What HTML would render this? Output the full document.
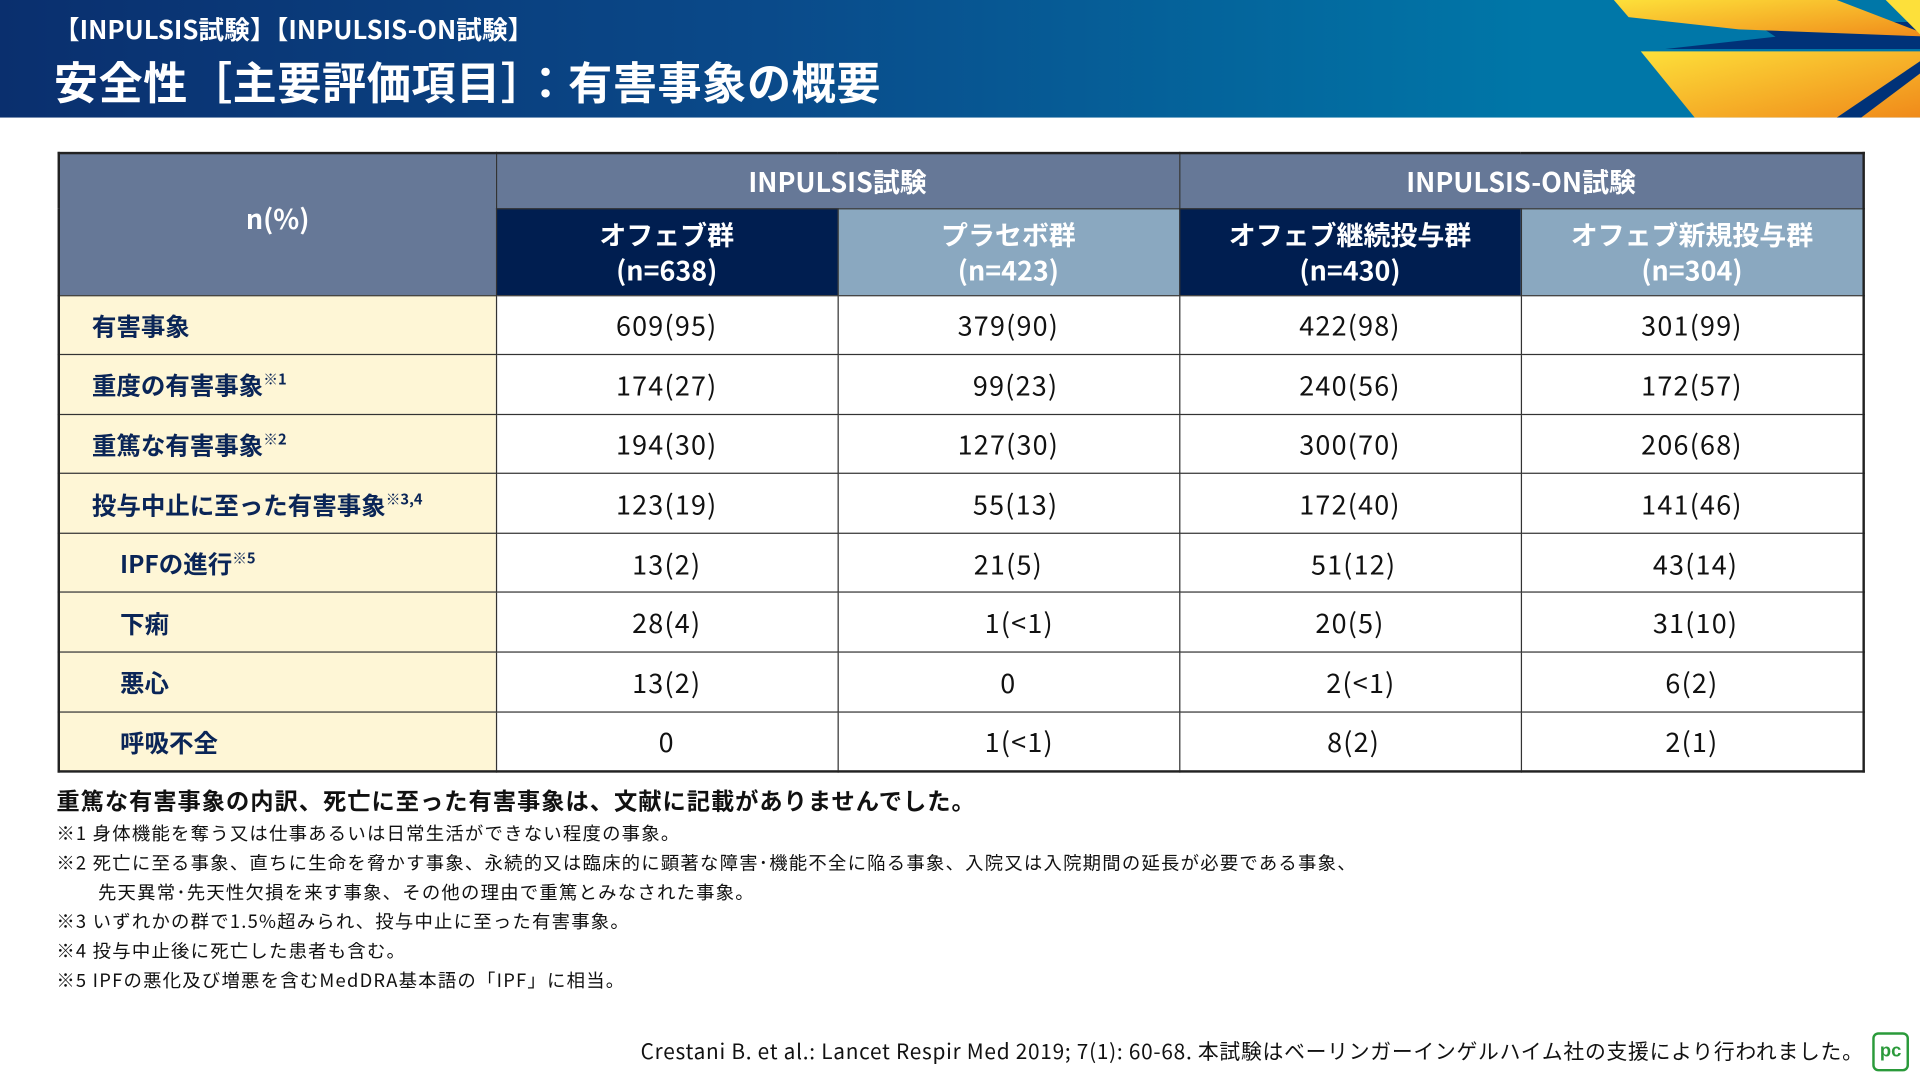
<!DOCTYPE html>
<html><head><meta charset="utf-8"><style>
html,body{margin:0;padding:0;width:1920px;height:1080px;overflow:hidden;background:#fff}
#w{position:absolute;left:0;top:0;width:1568px;height:882px;transform:scale(1.22449);transform-origin:0 0;font-family:"Liberation Sans","Noto Sans CJK JP",sans-serif}
.hd{position:absolute;left:0;top:0;width:1568px;height:96px;background:linear-gradient(90deg,#0a2f6e 0%,#0a4a8a 40%,#0077a8 80%,#0077a8 100%);overflow:hidden}
.t1{position:absolute;left:44px;top:9px;color:#fff;font-size:21px;font-weight:bold;font-family:"Noto Sans CJK JP",sans-serif}
.t2{position:absolute;left:44px;top:40px;color:#fff;font-size:36px;font-weight:bold;font-family:"Noto Sans CJK JP",sans-serif;letter-spacing:0.5px}
table{position:absolute;left:47px;top:124px;border-collapse:collapse;border:2px solid #222;font-family:"Noto Sans CJK JP",sans-serif}
td{border:1px solid #333;padding:0;text-align:center}
.g{background:#667897;color:#fff;font-weight:bold;font-size:22px}
.n{background:#001e50;color:#fff;font-weight:bold;font-size:22px;line-height:29px}
.l{background:#8aa8c0;color:#fff;font-weight:bold;font-size:22px;line-height:29px}
.lb{background:#fef6d6;color:#0a2557;font-weight:bold;font-size:20px;text-align:left;padding-left:26px}
.lb.i{padding-left:49px}
.lb sup{font-size:12px;vertical-align:8px}
.v{font-size:22px;color:#111;background:#fff;letter-spacing:1px}
tr.r td{height:47.6px}
.f{position:absolute;left:46px;font-size:15px;color:#111;font-family:"Noto Sans CJK JP",sans-serif;letter-spacing:1px;white-space:nowrap}
</style></head><body><div id="w">
<div class="hd">
<svg width="1568" height="96" style="position:absolute;left:0;top:0">
<defs><linearGradient id="y" x1="0" y1="0" x2="1" y2="1"><stop offset="0" stop-color="#fde03a"/><stop offset="1" stop-color="#f08a1a"/></linearGradient></defs>
<polygon points="1300,0 1568,0 1568,96 1488,96" fill="#0077a8"/>
<polygon points="1405,0 1500,0 1540,18 1568,18 1568,40 1360,40 1450,30" fill="#003278"/>
<polygon points="1318,0 1530,0 1500,0 1578,30 1420,24 1330,14" fill="url(#y)"/>
<polygon points="1540,0 1568,0 1568,28" fill="#fde03a"/>
<polygon points="1340,42 1568,42 1568,96 1384,96" fill="url(#y)"/>
<polygon points="1500,96 1568,50 1568,60 1520,96" fill="#003278"/>
</svg>
<div class="t1">【INPULSIS試験】【INPULSIS-ON試験】</div>
<div class="t2">安全性［主要評価項目］：有害事象の概要</div>
</div>
<table>
<colgroup><col style="width:357px"><col style="width:279px"><col style="width:279px"><col style="width:279px"><col style="width:280px"></colgroup>
<tr style="height:45px"><td class="g" rowspan="2" style="padding-bottom:10px">n(%)</td><td class="g" colspan="2">INPULSIS試験</td><td class="g" colspan="2">INPULSIS-ON試験</td></tr>
<tr style="height:71px"><td class="n">オフェブ群<br>(n=638)</td><td class="l">プラセボ群<br>(n=423)</td><td class="n">オフェブ継続投与群<br>(n=430)</td><td class="l">オフェブ新規投与群<br>(n=304)</td></tr>
<tr class="r"><td class="lb">有害事象</td><td class="v">609(95)</td><td class="v">379(90)</td><td class="v">422(98)</td><td class="v">301(99)</td></tr>
<tr class="r"><td class="lb">重度の有害事象<sup>※1</sup></td><td class="v">174(27)</td><td class="v">&nbsp;&nbsp;99(23)</td><td class="v">240(56)</td><td class="v">172(57)</td></tr>
<tr class="r"><td class="lb">重篤な有害事象<sup>※2</sup></td><td class="v">194(30)</td><td class="v">127(30)</td><td class="v">300(70)</td><td class="v">206(68)</td></tr>
<tr class="r"><td class="lb">投与中止に至った有害事象<sup>※3,4</sup></td><td class="v">123(19)</td><td class="v">&nbsp;&nbsp;55(13)</td><td class="v">172(40)</td><td class="v">141(46)</td></tr>
<tr class="r"><td class="lb i">IPFの進行<sup>※5</sup></td><td class="v">13(2)</td><td class="v">21(5)</td><td class="v">&nbsp;51(12)</td><td class="v">&nbsp;43(14)</td></tr>
<tr class="r"><td class="lb i">下痢</td><td class="v">28(4)</td><td class="v">&nbsp;&nbsp;&nbsp;1(&lt;1)</td><td class="v">20(5)</td><td class="v">&nbsp;31(10)</td></tr>
<tr class="r"><td class="lb i">悪心</td><td class="v">13(2)</td><td class="v">0</td><td class="v">&nbsp;&nbsp;&nbsp;2(&lt;1)</td><td class="v">6(2)</td></tr>
<tr class="r"><td class="lb i">呼吸不全</td><td class="v">0</td><td class="v">&nbsp;&nbsp;&nbsp;1(&lt;1)</td><td class="v">&nbsp;8(2)</td><td class="v">2(1)</td></tr>
</table>
<div class="f" style="top:640px;font-size:19px;font-weight:bold;color:#111;letter-spacing:0.8px">重篤な有害事象の内訳、死亡に至った有害事象は、文献に記載がありませんでした。</div>
<div class="f" style="top:670px">※1 身体機能を奪う又は仕事あるいは日常生活ができない程度の事象。</div>
<div class="f" style="top:694px">※2 死亡に至る事象、直ちに生命を脅かす事象、永続的又は臨床的に顕著な障害･機能不全に陥る事象、入院又は入院期間の延長が必要である事象、</div>
<div class="f" style="top:718px;left:80px">先天異常･先天性欠損を来す事象、その他の理由で重篤とみなされた事象。</div>
<div class="f" style="top:742px">※3 いずれかの群で1.5%超みられ、投与中止に至った有害事象。</div>
<div class="f" style="top:766px">※4 投与中止後に死亡した患者も含む。</div>
<div class="f" style="top:790px">※5 IPFの悪化及び増悪を含むMedDRA基本語の「IPF」に相当。</div>
<div class="f" style="top:845px;left:auto;right:46px;font-size:17px;letter-spacing:0.6px">Crestani B. et al.: Lancet Respir Med 2019; 7(1): 60-68. 本試験はベーリンガーインゲルハイム社の支援により行われました。</div>
<div style="position:absolute;left:1529px;top:843px;width:26px;height:28px;border:2px solid #2a9a3a;border-radius:5px;color:#2a9a3a;font-weight:bold;font-size:15px;text-align:center;line-height:28px;font-family:'Liberation Sans',sans-serif">pc</div>
</div></body></html>
